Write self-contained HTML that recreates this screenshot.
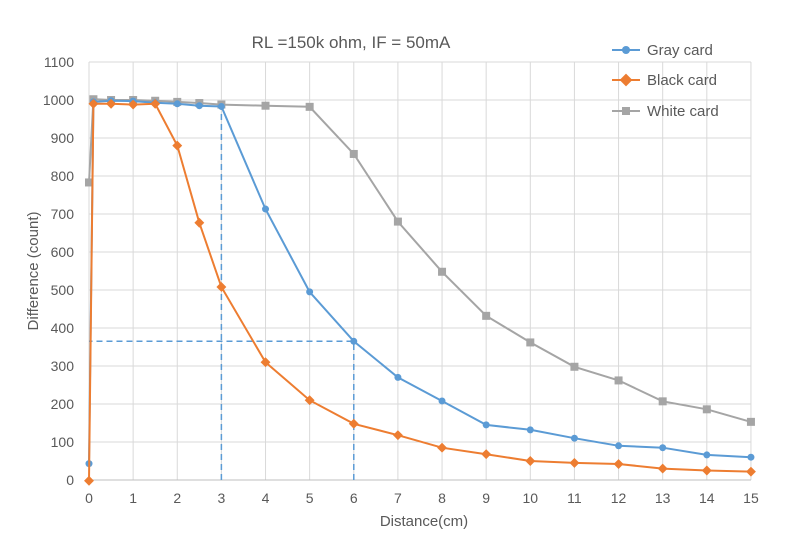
<!DOCTYPE html>
<html><head><meta charset="utf-8"><style>
html,body{margin:0;padding:0;background:#fff;}
svg text{font-family:"Liberation Sans",sans-serif;fill:#595959;}
</style></head><body>
<svg id="s" width="793" height="534" xmlns="http://www.w3.org/2000/svg">
<rect width="793" height="534" fill="#fff"/>
<g id="grid"></g>
<text x="351" y="48" font-size="17" text-anchor="middle" fill="#595959">RL =150k ohm, IF = 50mA</text>
<text x="424" y="526" font-size="15" text-anchor="middle">Distance(cm)</text>
<text transform="translate(38,271) rotate(-90)" font-size="15" text-anchor="middle">Difference (count)</text>
<g id="data"></g>
<g font-size="15">
<line x1="612" y1="50" x2="640" y2="50" stroke="#5b9bd5" stroke-width="2"/><circle cx="626" cy="50" r="4" fill="#5b9bd5"/>
<text x="647" y="55">Gray card</text>
<line x1="612" y1="80" x2="640" y2="80" stroke="#ed7d31" stroke-width="2"/><rect x="621.5" y="75.5" width="9" height="9" fill="#ed7d31" transform="rotate(45 626 80)"/>
<text x="647" y="85">Black card</text>
<line x1="612" y1="111" x2="640" y2="111" stroke="#a5a5a5" stroke-width="2"/><rect x="622" y="107" width="8" height="8" fill="#a5a5a5"/>
<text x="647" y="116">White card</text>
</g>
</svg>
<script>
var X=function(v){return 89+v*44.13},Y=function(v){return 480-v*0.38};
var ns="http://www.w3.org/2000/svg",g=document.getElementById('grid'),d=document.getElementById('data');
function el(p,t,a,txt){var e=document.createElementNS(ns,t);for(var k in a)e.setAttribute(k,a[k]);if(txt!=null)e.textContent=txt;p.appendChild(e);return e;}
for(var i=0;i<=11;i++){var y=Y(i*100);el(g,'line',{x1:89,x2:751,y1:y,y2:y,stroke:'#d9d9d9','stroke-width':1});el(g,'text',{x:74,y:y+5,'font-size':14,'text-anchor':'end'},i*100);}
for(var i=0;i<=15;i++){var x=X(i);el(g,'line',{x1:x,x2:x,y1:Y(1100),y2:480,stroke:'#d9d9d9','stroke-width':1});el(g,'text',{x:x,y:503,'font-size':14,'text-anchor':'middle'},i);}
el(g,'line',{x1:89,x2:751,y1:480,y2:480,stroke:'#bfbfbf'});
var xs=[0,0.1,0.5,1,1.5,2,2.5,3,4,5,6,7,8,9,10,11,12,13,14,15];
var gray=[43,995,998,997,993,990,985,983,713,495,365,270,208,145,132,110,90,85,66,60];
var black=[-2,990,990,988,990,880,677,508,310,210,148,118,85,68,50,45,42,30,25,22];
var white=[783,1002,1000,1000,998,995,992,988,985,982,858,680,548,432,362,298,262,207,186,153];
// dashed guides
el(d,'path',{d:'M'+X(3)+' 480 V'+Y(983)+' M'+X(6)+' 480 V'+Y(365)+' H89',stroke:'#5b9bd5','stroke-width':1.5,fill:'none','stroke-dasharray':'6,4'});
function series(v,c,m){var p='';for(var i=0;i<xs.length;i++)p+=(i?'L':'M')+X(xs[i]).toFixed(1)+' '+Y(v[i]).toFixed(1);
el(d,'path',{d:p,stroke:c,'stroke-width':2,fill:'none'});
for(var i=0;i<xs.length;i++){var x=X(xs[i]),y=Y(v[i]);
if(m=='c')el(d,'circle',{cx:x,cy:y,r:3.5,fill:c});
else if(m=='d')el(d,'rect',{x:x-3.5,y:y-3.5,width:7,height:7,fill:c,transform:'rotate(45 '+x+' '+y+')'});
else el(d,'rect',{x:x-4,y:y-4,width:8,height:8,fill:c});}}
series(white,'#a5a5a5','s');series(gray,'#5b9bd5','c');series(black,'#ed7d31','d');
</script>
</body></html>
